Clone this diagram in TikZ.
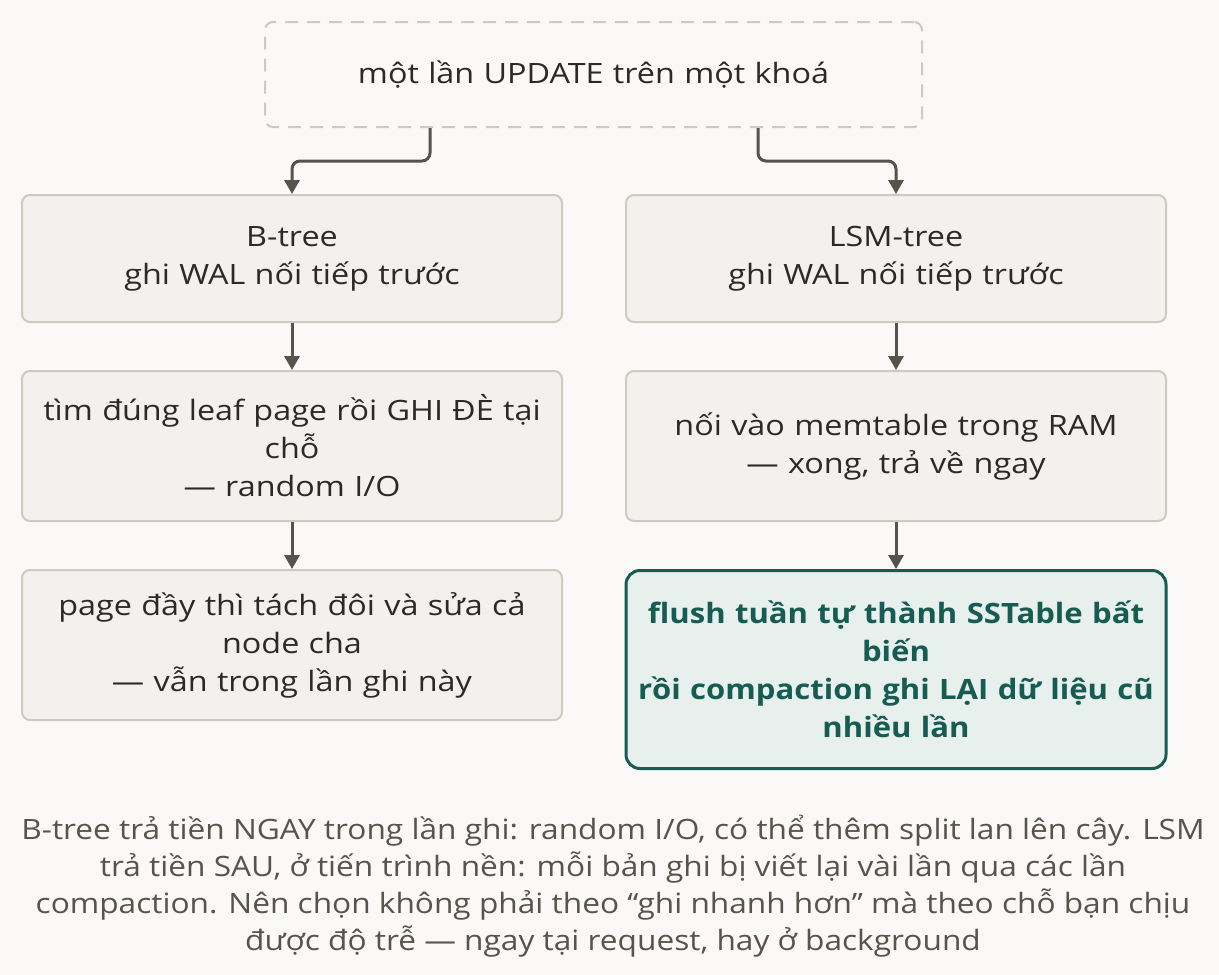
\documentclass[tikz,border=0pt]{standalone}
\usepackage{fontspec}
\setmainfont{Open Sans}[FakeStretch=1.155, BoldFeatures={FakeStretch=1.11}]
\newfontfamily\notefont{Open Sans}[FakeStretch=1.13]
\usepackage{tikz}
\usetikzlibrary{positioning, arrows.meta}
\definecolor{bgcol}{HTML}{FAF9F7}
\definecolor{boxfill}{HTML}{F2F1ED}
\definecolor{boxline}{HTML}{CDCAC1}
\definecolor{ink}{HTML}{2B2A28}
\definecolor{arrcol}{HTML}{55534E}
\definecolor{hotfill}{HTML}{E8F0EE}
\definecolor{hotline}{HTML}{175C53}
\definecolor{notecol}{HTML}{57534D}

\begin{document}
\begin{tikzpicture}[x=1pt, y=1pt,
  main/.style = {draw=boxline, fill=boxfill, line width=2pt, rounded corners=8pt,
    text width=530pt, inner xsep=5pt, inner ysep=0pt, align=center,
    minimum height=127pt, text=ink, font=\fontsize{28}{38}\selectfont},
  start/.style = {main, fill=bgcol, dash pattern=on 13pt off 9pt,
    text width=647pt, minimum height=105pt},
  hot/.style = {main, draw=hotline, fill=hotfill, line width=3pt, rounded corners=14pt,
    text=hotline, font=\fontsize{28}{38}\selectfont\bfseries},
  arr/.style = {draw=arrcol, line width=3pt, -{Triangle[length=14pt, width=15pt]}}]
  \useasboundingbox (0,0) rectangle (1219,-975);
  \fill[bgcol] (0,0) rectangle (1219,-975);

  \node[start] (top) at (593.5,-74.5) {một lần UPDATE trên một khoá};

  % B-tree column
  \node[main] (bt1) at (292,-258.5) {B-tree\\ghi WAL nối tiếp trước};
  \node[main, minimum height=150pt] (bt2) [below=47pt of bt1]
    {tìm đúng leaf page rồi GHI ĐÈ tại\\chỗ\\— random I/O};
  \node[main, minimum height=150pt] (bt3) [below=47pt of bt2]
    {page đầy thì tách đôi và sửa cả\\node cha\\— vẫn trong lần ghi này};

  % LSM column
  \node[main] (lsm1) [right=62pt of bt1] {LSM-tree\\ghi WAL nối tiếp trước};
  \node[main, minimum height=150pt] (lsm2) [below=47pt of lsm1]
    {nối vào memtable trong RAM\\— xong, trả về ngay};
  \node[hot, minimum height=198pt] (lsm3) [below=47pt of lsm2]
    {flush tuần tự thành SSTable bất\\biến\\rồi compaction ghi LẠI dữ liệu cũ\\nhiều lần};

  \draw[arr, rounded corners=8pt] ([xshift=-163.5pt]top.south) |- ([yshift=33pt]bt1.north) -- (bt1.north);
  \draw[arr, rounded corners=8pt] ([xshift=164.5pt]top.south) |- ([yshift=33pt]lsm1.north) -- (lsm1.north);
  \draw[arr] (bt1) -- (bt2);
  \draw[arr] (bt2) -- (bt3);
  \draw[arr] (lsm1) -- (lsm2);
  \draw[arr] (lsm2) -- (lsm3);

  \node[align=center, text=notecol, font=\notefont\fontsize{28}{37}\selectfont] (note) at (613,-886)
    {B-tree trả tiền NGAY trong lần ghi: random I/O, có thể thêm split lan lên cây. LSM\\
     trả tiền SAU, ở tiến trình nền: mỗi bản ghi bị viết lại vài lần qua các lần\\
     compaction. Nên chọn không phải theo “ghi nhanh hơn” mà theo chỗ bạn chịu\\
     được độ trễ — ngay tại request, hay ở background};
\end{tikzpicture}
\end{document}
